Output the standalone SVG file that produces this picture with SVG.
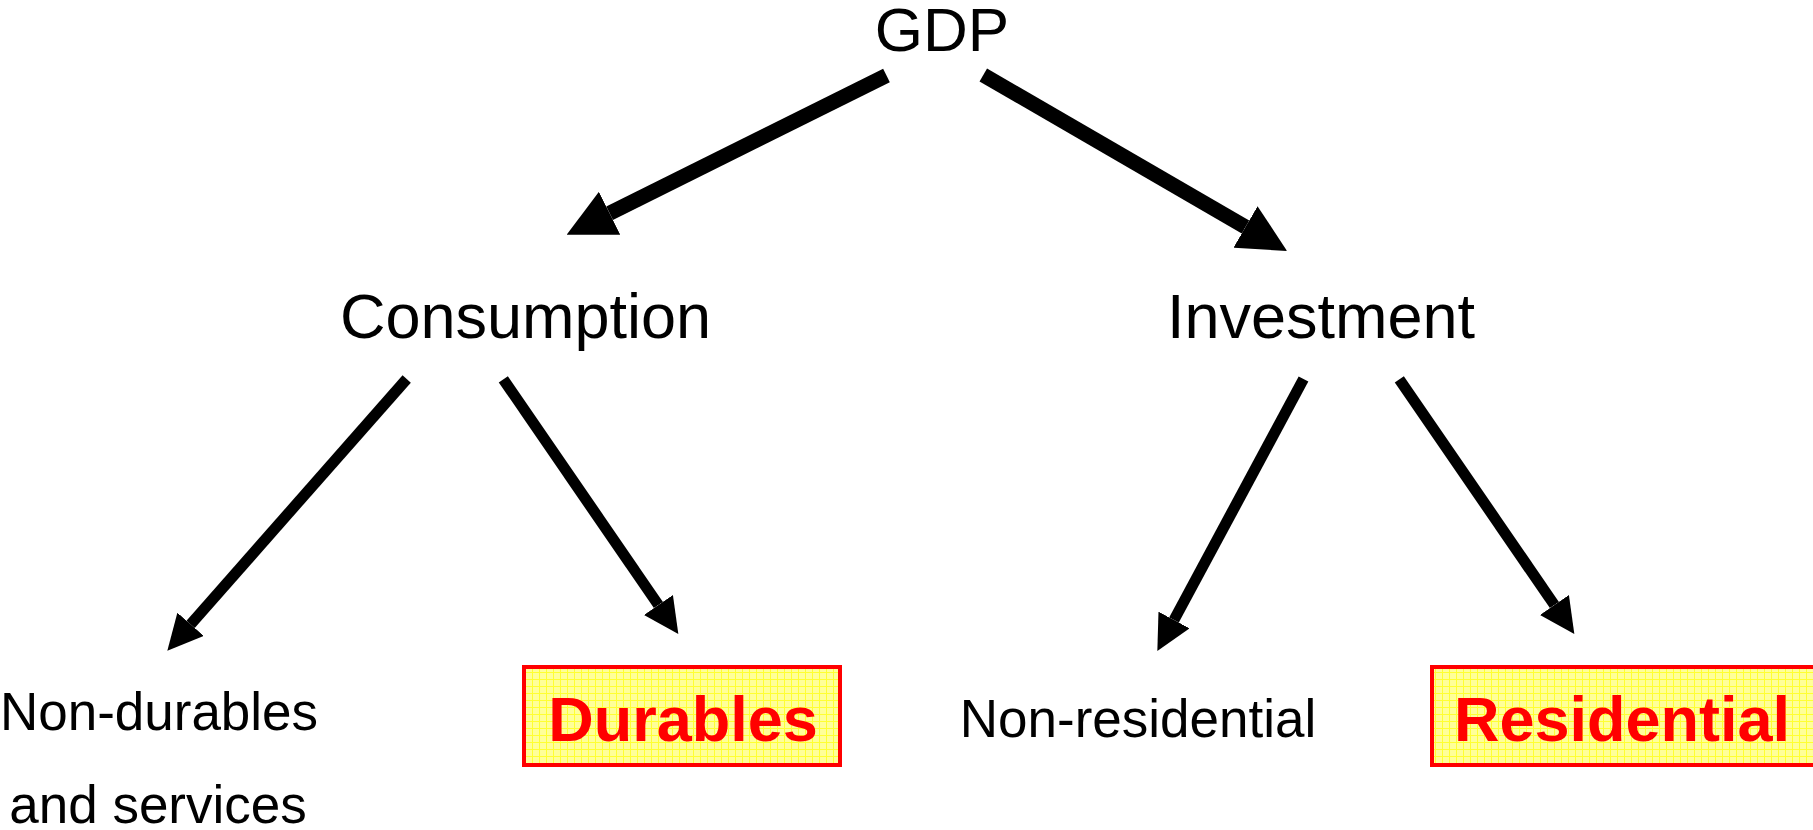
<svg xmlns="http://www.w3.org/2000/svg" width="1813" height="830" viewBox="0 0 1813 830">
  <defs>
    <pattern id="grid" x="0" y="0" width="7" height="7" patternUnits="userSpaceOnUse">
      <rect width="7" height="7" fill="#FFFF99"/>
      <path d="M0,0.5 H7 M0.5,0 V7" stroke="#FFFF33" stroke-width="1" fill="none"/>
    </pattern>
    <marker id="head" viewBox="0 0 10 10" refX="0" refY="5" markerWidth="3.2" markerHeight="3.2" markerUnits="strokeWidth" orient="auto">
      <path d="M0,0 L10,5 L0,10 z" fill="#000"/>
    </marker>
  </defs>
  <style>
    .lbl { font-family: "Liberation Sans", Arial, sans-serif; fill: #000; text-anchor: middle; }
    .big { font-size: 63px; }
    .small { font-size: 53px; }
    .hl { font-family: "Liberation Sans", Arial, sans-serif; font-weight: bold; font-size: 63px; fill: #FF0000; text-anchor: middle; }
    .box { fill: url(#grid); stroke: #FF0000; stroke-width: 4; }
    .arrow { stroke: #000; fill: none; stroke-linecap: butt; marker-end: url(#head); }
    .top { stroke-width: 15; }
    .low { stroke-width: 11; }
  </style>
  <rect width="1813" height="830" fill="#fff"/>

  <g id="connectors">
    <line class="arrow top" x1="886.5" y1="75.5" x2="609.6" y2="213.3"/>
    <line class="arrow top" x1="983.3" y1="75" x2="1245.5" y2="226.9"/>
    <line class="arrow low" x1="406.7" y1="379" x2="190.6" y2="624.3"/>
    <line class="arrow low" x1="503.3" y1="379.3" x2="658.4" y2="605"/>
    <line class="arrow low" x1="1303.5" y1="379" x2="1174" y2="620"/>
    <line class="arrow low" x1="1399.3" y1="379.3" x2="1554.4" y2="605"/>
  </g>

  <g id="gdp">
    <text class="lbl" x="942" y="51" font-size="62">GDP</text>
  </g>
  <g id="consumption">
    <text class="lbl big" x="525.5" y="338">Consumption</text>
  </g>
  <g id="investment">
    <text class="lbl big" x="1321" y="338">Investment</text>
  </g>
  <g id="nondurables">
    <text class="lbl small" x="159" y="730">Non-durables</text>
    <text class="lbl small" x="158" y="823">and services</text>
  </g>
  <g id="durables">
    <rect class="box" x="524" y="667" width="316" height="98"/>
    <text class="hl" x="683" y="741">Durables</text>
  </g>
  <g id="nonresidential">
    <text class="lbl small" x="1138" y="737">Non-residential</text>
  </g>
  <g id="residential">
    <rect class="box" x="1432" y="667" width="400" height="98"/>
    <text class="hl" x="1622" y="741">Residential</text>
  </g>
</svg>
